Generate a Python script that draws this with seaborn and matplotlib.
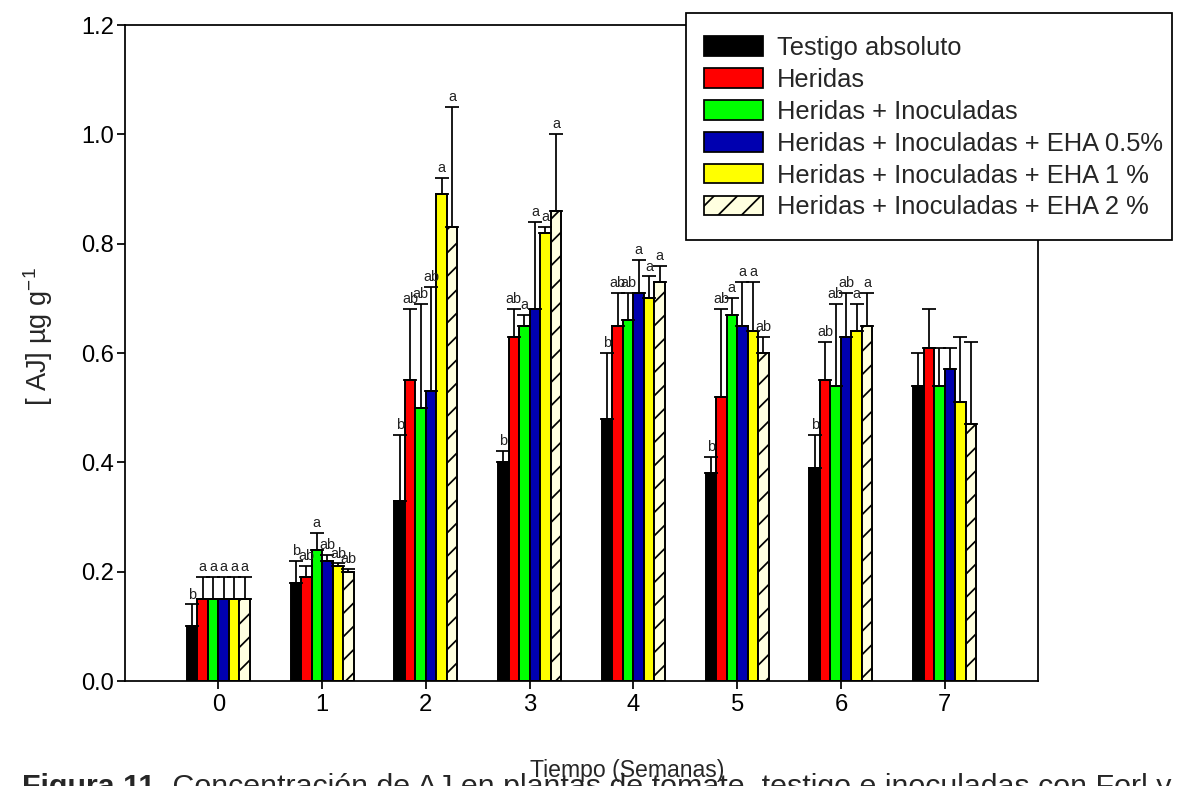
import numpy as np
import pandas as pd
import matplotlib
matplotlib.use("Agg")
import matplotlib.pyplot as plt
import seaborn as sns
from matplotlib.patches import Patch, Rectangle

# ---------------- data ----------------
semanas = ["0", "1", "2", "3", "4", "5", "6", "7"]
tratamientos = [
    "Testigo absoluto",
    "Heridas",
    "Heridas + Inoculadas",
    "Heridas + Inoculadas + EHA 0.5%",
    "Heridas + Inoculadas + EHA 1 %",
    "Heridas + Inoculadas + EHA 2 %",
]
colores = ["#000000", "#FF0000", "#00FF00", "#0000B0", "#FFFF00", "#FFFFE0"]

testigo = [0.10, 0.18, 0.33, 0.40, 0.48, 0.38, 0.39, 0.54]
heridas = [0.15, 0.19, 0.55, 0.63, 0.65, 0.52, 0.55, 0.61]
inoculadas = [0.15, 0.24, 0.50, 0.65, 0.66, 0.67, 0.54, 0.54]
eha_05 = [0.15, 0.22, 0.53, 0.68, 0.71, 0.65, 0.63, 0.57]
eha_1 = [0.15, 0.21, 0.89, 0.82, 0.70, 0.64, 0.64, 0.51]
eha_2 = [0.15, 0.20, 0.83, 0.86, 0.73, 0.60, 0.65, 0.47]

# upper end of the error bars
testigo_sup = [0.14, 0.22, 0.45, 0.42, 0.60, 0.41, 0.45, 0.60]
heridas_sup = [0.19, 0.21, 0.68, 0.68, 0.71, 0.68, 0.62, 0.68]
inoculadas_sup = [0.19, 0.27, 0.69, 0.67, 0.71, 0.70, 0.69, 0.61]
eha_05_sup = [0.19, 0.23, 0.72, 0.84, 0.77, 0.73, 0.71, 0.61]
eha_1_sup = [0.19, 0.215, 0.92, 0.83, 0.74, 0.73, 0.69, 0.63]
eha_2_sup = [0.19, 0.205, 1.05, 1.00, 0.76, 0.63, 0.71, 0.62]

# significance letters
testigo_let = ["b", "b", "b", "b", "b", "b", "b", ""]
heridas_let = ["a", "ab", "ab", "ab", "ab", "ab", "ab", ""]
inoculadas_let = ["a", "a", "ab", "a", "ab", "a", "ab", ""]
eha_05_let = ["a", "ab", "ab", "a", "a", "a", "ab", ""]
eha_1_let = ["a", "ab", "a", "a", "a", "a", "a", ""]
eha_2_let = ["a", "ab", "a", "a", "a", "ab", "a", ""]

valores = [testigo, heridas, inoculadas, eha_05, eha_1, eha_2]
superiores = [testigo_sup, heridas_sup, inoculadas_sup, eha_05_sup, eha_1_sup, eha_2_sup]
letras = [testigo_let, heridas_let, inoculadas_let, eha_05_let, eha_1_let, eha_2_let]

df = pd.DataFrame({
    "semana": [s for t in tratamientos for s in semanas],
    "tratamiento": [t for t in tratamientos for s in semanas],
    "valor": [v for serie in valores for v in serie],
})

# ---------------- style ----------------
DPI = 140
sns.set_theme(style="white")
plt.rcParams["font.family"] = ["Liberation Sans", "DejaVu Sans"]
plt.rcParams["mathtext.fontset"] = "custom"
plt.rcParams["mathtext.rm"] = "Liberation Sans"
plt.rcParams["mathtext.it"] = "Liberation Sans:italic"
plt.rcParams["mathtext.default"] = "regular"
plt.rcParams["hatch.linewidth"] = 0.9
plt.rcParams["hatch.color"] = "black"

fig = plt.figure(figsize=(1180 / DPI, 786 / DPI), dpi=DPI)
ax = fig.add_axes([125 / 1180, 1 - 681 / 786, (1038 - 125) / 1180, (681 - 25) / 786])

sns.barplot(
    data=df, x="semana", y="valor", hue="tratamiento",
    order=semanas, hue_order=tratamientos, palette=colores,
    width=0.608, gap=0, errorbar=None, saturation=1,
    edgecolor="black", linewidth=1.0, legend=False, ax=ax,
)

# hatch for last treatment
for p in ax.containers[-1]:
    p.set_hatch("//")

# error bars and letters
for cont, sup, lets in zip(ax.containers, superiores, letras):
    xs, ys, errs = [], [], []
    for p, s in zip(cont, sup):
        x = p.get_x() + p.get_width() / 2
        y = p.get_height()
        xs.append(x); ys.append(y); errs.append(max(s - y, 0))
    ax.errorbar(xs, ys, yerr=[np.zeros(len(errs)), errs], fmt="none",
                ecolor="black", elinewidth=0.9, capsize=3.8, capthick=0.9, zorder=1)
    for x, s, l in zip(xs, sup, lets):
        if l:
            ax.annotate(l, (x, s), xytext=(0, 1.5), textcoords="offset points",
                        ha="center", va="bottom", fontsize=7.4, color="#222222")

ax.set_xlim(-0.9, 7.9)
ax.set_ylim(0, 1.2)
ax.set_yticks(np.arange(0, 1.21, 0.2))
ax.set_yticklabels([f"{v:.1f}" for v in np.arange(0, 1.21, 0.2)])
ax.tick_params(axis="both", direction="out", length=4, width=0.9, labelsize=12.2,
               bottom=True, left=True, top=False, right=False, colors="black")
ax.tick_params(axis="y", pad=1.5)
ax.tick_params(axis="x", pad=2.5)
for sp in ax.spines.values():
    sp.set_visible(True)
    sp.set_color("black")
    sp.set_linewidth(0.9)

ax.set_xlabel("")
ax.set_ylabel("[ AJ] µg g$^{-1}$", fontsize=14)
ax.yaxis.set_label_coords(-0.077, 0.525)

fig.text(627 / 1180, (786 - 777) / 786, "Tiempo (Semanas)", ha="center", va="baseline",
         fontsize=11.8)

# legend box (frame drawn as a figure rectangle)
fig.patches.append(Rectangle((686 / 1180, 1 - 240 / 786), (1172 - 686) / 1180, (240 - 13) / 786,
                             transform=fig.transFigure, facecolor="white",
                             edgecolor="black", linewidth=0.9, zorder=1))
handles = [Patch(facecolor=c, edgecolor="black", linewidth=0.9,
                 hatch=("//" if i == len(colores) - 1 else None))
           for i, c in enumerate(colores)]
leg = fig.legend(handles, tratamientos, loc="upper left",
                 bbox_to_anchor=(704 / 1180, 1 - 36 / 786), borderaxespad=0,
                 fontsize=13.1, frameon=False, handlelength=2.3, handleheight=0.8,
                 handletextpad=0.55, labelspacing=0.31, borderpad=0)
leg.set_zorder(5)

# caption (partly cut by the lower border)
cap1 = fig.text(22 / 1180, -9 / 786, "Figura 11.", ha="left", va="baseline",
                fontsize=15.6, fontweight="bold")
fig.canvas.draw()
ax.annotate(" Concentración de AJ en plantas de tomate, testigo e inoculadas con Forl y",
            xy=(1, 0), xycoords=cap1, ha="left", va="bottom", fontsize=15.6,
            annotation_clip=False)

fig.savefig("out.png", dpi=DPI)
